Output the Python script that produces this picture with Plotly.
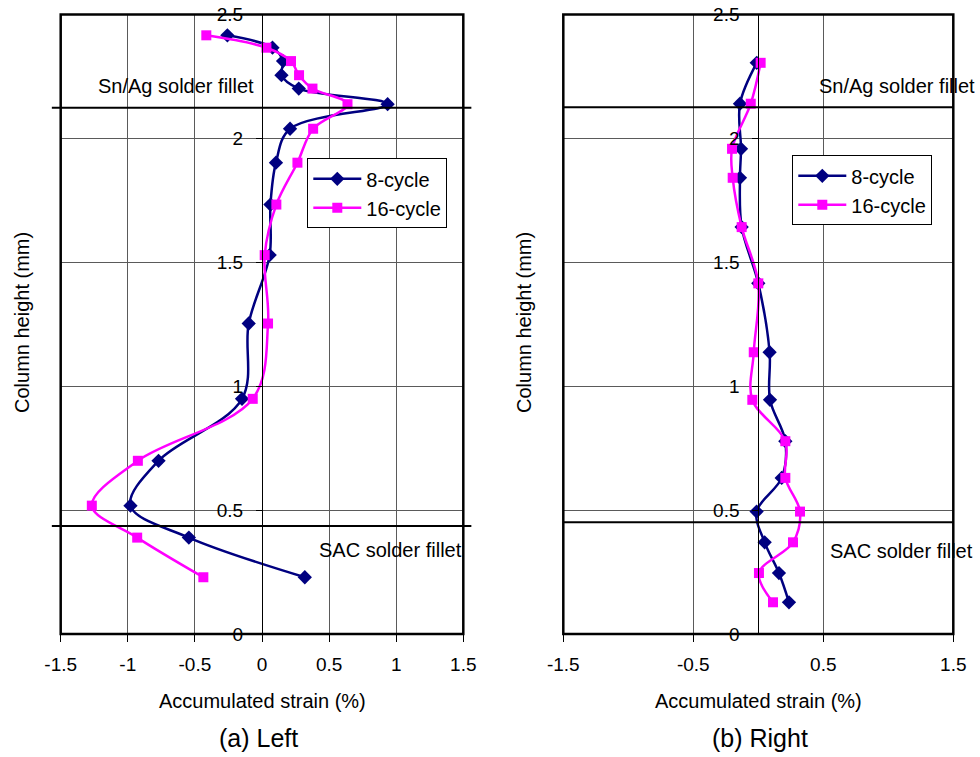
import plotly.graph_objects as go

# ---------------- data ----------------
left_height = [2.416, 2.366, 2.312, 2.255, 2.201, 2.138, 2.039, 1.902, 1.733,
               1.529, 1.253, 0.949, 0.699, 0.518, 0.389, 0.229]
left_8cycle = [-0.258, 0.078, 0.157, 0.145, 0.274, 0.936, 0.209, 0.104, 0.063,
               0.057, -0.099, -0.149, -0.771, -0.980, -0.545, 0.319]
left_16cycle = [-0.415, 0.033, 0.216, 0.276, 0.376, 0.637, 0.381, 0.264, 0.107,
                0.020, 0.045, -0.069, -0.925, -1.268, -0.930, -0.437]

right_height = [2.305, 2.140, 1.958, 1.841, 1.642, 1.415, 1.137, 0.945, 0.778,
                0.630, 0.494, 0.370, 0.246, 0.128]
right_8cycle = [-0.012, -0.141, -0.133, -0.141, -0.128, 0.000, 0.087, 0.090,
                0.208, 0.180, -0.013, 0.049, 0.159, 0.236]
right_16cycle = [0.018, -0.058, -0.202, -0.197, -0.128, 0.000, -0.035, -0.046,
                 0.208, 0.208, 0.321, 0.267, 0.005, 0.113]

left_snag_boundary = 2.124
left_sac_boundary = 0.436
right_snag_boundary = 2.126
right_sac_boundary = 0.451

y_ticks = [0, 0.5, 1, 1.5, 2, 2.5]
y_ticklabels = ["0", "0.5", "1", "1.5", "2", "2.5"]
left_x_ticks = [-1.5, -1, -0.5, 0, 0.5, 1, 1.5]
left_x_ticklabels = ["-1.5", "-1", "-0.5", "0", "0.5", "1", "1.5"]
right_x_ticks = [-1.5, -0.5, 0.5, 1.5]
right_x_ticklabels = ["-1.5", "-0.5", "0.5", "1.5"]

NAVY = "#000080"
MAGENTA = "#FF00FF"
FONT = "Arial, Liberation Sans, sans-serif"
W, H = 980, 757

fig = go.Figure()

def add_series(x, y, name, color, symbol, size, xa, ya, legend):
    fig.add_trace(go.Scatter(
        x=x, y=y, name=name, mode="lines+markers",
        line=dict(color=color, width=2.5, shape="spline", smoothing=1),
        marker=dict(color=color, symbol=symbol, size=size),
        xaxis=xa, yaxis=ya, legend=legend, cliponaxis=False))

add_series(left_8cycle, left_height, "8-cycle", NAVY, "diamond", 11, "x", "y", "legend")
add_series(left_16cycle, left_height, "16-cycle", MAGENTA, "square", 10, "x", "y", "legend")
add_series(right_8cycle, right_height, "8-cycle", NAVY, "diamond", 11, "x2", "y2", "legend2")
add_series(right_16cycle, right_height, "16-cycle", MAGENTA, "square", 10, "x2", "y2", "legend2")

GRID = "#5a5a5a"
tickfont = dict(family=FONT, size=19, color="black")

left_dom = [60.7 / W, 463.3 / W]
right_dom = [563.3 / W, 953.3 / W]
y_dom = [1 - 634 / H, 1 - 14.5 / H]

def xaxis(dom, ticks, labels, yname):
    return dict(domain=dom, range=[-1.5, 1.5], tickmode="array", tickvals=ticks,
                ticktext=labels, showgrid=True, gridcolor=GRID, gridwidth=1,
                zeroline=False, showline=False, ticks="outside", ticklen=7,
                tickcolor="black", tickfont=tickfont, anchor=yname, fixedrange=True,
                automargin=False, ticklabelstandoff=6)

def yaxis(dom, pos):
    return dict(domain=dom, range=[0, 2.5], tickmode="array", tickvals=y_ticks,
                ticktext=y_ticklabels, showgrid=True, gridcolor=GRID, gridwidth=1,
                zeroline=False, showline=True, linecolor="black", linewidth=1,
                ticks="outside", ticklen=6, tickcolor="black", tickfont=tickfont,
                anchor="free", position=pos, ticklabelstandoff=9, fixedrange=True,
                automargin=False)

left_zero = (left_dom[0] + (left_dom[1] - left_dom[0]) * 0.5)
right_zero = (right_dom[0] + (right_dom[1] - right_dom[0]) * 0.5)

legend_common = dict(xanchor="left", yanchor="top", bgcolor="white",
                     bordercolor="black", borderwidth=1, itemwidth=48,
                     font=dict(family=FONT, size=20, color="black"), tracegroupgap=0)

fig.update_layout(
    template="none",
    width=W, height=H, autosize=False,
    margin=dict(l=0, r=0, t=0, b=0, autoexpand=False),
    paper_bgcolor="white", plot_bgcolor="white",
    font=dict(family=FONT, size=19, color="black"),
    xaxis=xaxis(left_dom, left_x_ticks, left_x_ticklabels, "y"),
    yaxis=yaxis(y_dom, left_zero),
    xaxis2=xaxis(right_dom, right_x_ticks, right_x_ticklabels, "y2"),
    yaxis2=yaxis(y_dom, right_zero),
    legend=dict(x=307.3 / W, y=1 - 158.3 / H, **legend_common),
    legend2=dict(x=792.3 / W, y=1 - 155.3 / H, **legend_common),
    showlegend=True,
)

shapes = []
for xd, yd in (("x domain", "y domain"), ("x2 domain", "y2 domain")):
    shapes.append(dict(type="rect", xref=xd, yref=yd, x0=0, x1=1, y0=0, y1=1,
                       line=dict(color="black", width=2.5), layer="above"))
for yv in (left_snag_boundary, left_sac_boundary):
    shapes.append(dict(type="line", xref="x domain", yref="y", x0=-0.022, x1=1.02,
                       y0=yv, y1=yv, line=dict(color="black", width=2)))
for yv in (right_snag_boundary, right_sac_boundary):
    shapes.append(dict(type="line", xref="x2 domain", yref="y2", x0=0, x1=1,
                       y0=yv, y1=yv, line=dict(color="black", width=2)))
fig.update_layout(shapes=shapes)

def ann(text, x, y, xanchor="center", size=20, angle=0):
    return dict(text=text, x=x / W, y=1 - y / H, xref="paper", yref="paper",
                xanchor=xanchor, yanchor="middle", showarrow=False, textangle=angle,
                font=dict(family=FONT, size=size, color="black"))

fig.update_layout(annotations=[
    ann("Sn/Ag solder fillet", 977, 86, "right"),
    ann("Sn/Ag solder fillet", 256, 86, "right"),
    ann("SAC solder fillet", 464, 550, "right"),
    ann("SAC solder fillet", 975, 551, "right"),
    ann("Accumulated strain (%)", 262, 701),
    ann("Accumulated strain (%)", 758, 701),
    ann("Column height (mm)", 22, 323, angle=-90),
    ann("Column height (mm)", 524, 323, angle=-90),
    ann("(a) Left", 258, 738, size=25),
    ann("(b) Right", 760, 738, size=25),
])

fig.write_html(
    "out.html",
    config={"displayModeBar": False},
    post_script="document.body.style.margin='0';document.body.style.padding='0';"
                "document.body.style.overflow='hidden';",
)
